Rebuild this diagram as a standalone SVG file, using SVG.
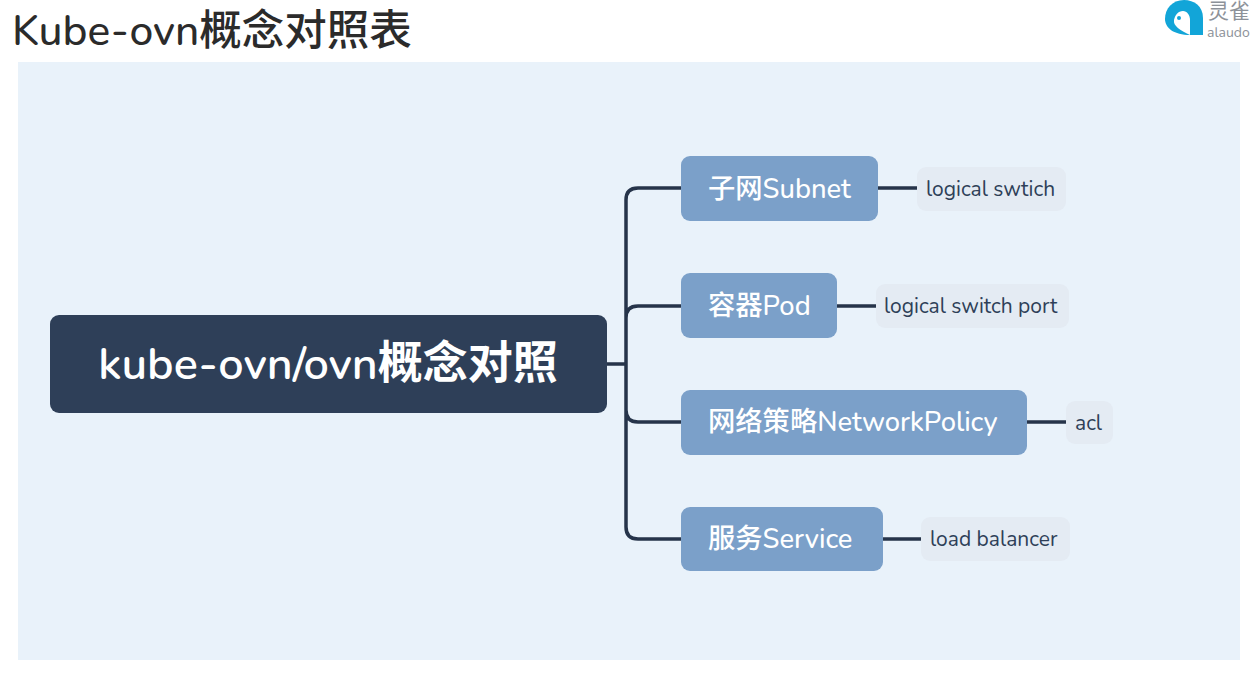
<svg xmlns="http://www.w3.org/2000/svg" width="1257" height="688" viewBox="0 0 1257 688">
<style>
text{font-family:"Nunito","Noto Sans","Noto Sans CJK SC",sans-serif}
.c{fill:none;stroke:#26344a;stroke-width:3.5}
.b{fill:#7ba0c9}
.bt{fill:#fff;font-size:27.3px;font-weight:500}
.l{fill:#e4ebf3}
.lt{fill:#2e3f58;font-size:21px}
</style>
<rect width="1257" height="688" fill="#fff"/>
<rect id="panel" x="18" y="62" width="1222" height="598" fill="#e9f2fa"/>
<text id="title" x="12" y="45" font-size="42.5" font-weight="500" fill="#2b2b2b">Kube-ovn概念对照表</text>
<g id="logo">
<path d="M1203 35V18C1203 6 1194 0 1184 0C1172 0 1165 9 1165 19C1165 28 1174 35 1190 35Z" fill="#12a5d8"/>
<path d="M1190 35V20C1190 15 1187 11 1183 11C1178 11 1175 15 1174 20C1173 26 1180 30 1190 35Z" fill="#fff"/>
<circle cx="1179" cy="18" r="2" fill="#12a5d8"/>
<text x="1208" y="18" font-size="21" fill="#8d9299">灵雀</text>
<text x="1207" y="37" font-size="14" fill="#8d9299">alaudo</text>
</g>
<g id="connectors">
<path class="c" d="M607 364H626M681 188H638Q626 188 626 200V527Q626 539 638 539H681M626 318Q626 306 638 306H681M626 410Q626 422 638 422H681"/>
<path class="c" d="M878 188H917M837 306H876M1027 422H1066M883 539H921"/>
</g>
<g id="root"><rect x="50" y="315" width="557" height="98" rx="9" fill="#2e3f58"/><text x="328" y="379" text-anchor="middle" font-size="45" font-weight="600" fill="#fff">kube-ovn/ovn概念对照</text></g>
<g id="subnet"><rect class="b" x="681" y="156" width="197" height="65" rx="9"/><text class="bt" x="708" y="198">子网Subnet</text></g>
<g id="pod"><rect class="b" x="681" y="273" width="156" height="65" rx="9"/><text class="bt" x="708" y="315">容器Pod</text></g>
<g id="policy"><rect class="b" x="681" y="390" width="346" height="65" rx="9"/><text class="bt" x="708" y="431">网络策略NetworkPolicy</text></g>
<g id="service"><rect class="b" x="681" y="507" width="202" height="64" rx="9"/><text class="bt" x="708" y="548">服务Service</text></g>
<g id="l1"><rect class="l" x="917" y="167" width="149" height="44" rx="9"/><text class="lt" x="926" y="196">logical swtich</text></g>
<g id="l2"><rect class="l" x="876" y="284" width="193" height="44" rx="9"/><text class="lt" x="884" y="313">logical switch port</text></g>
<g id="l3"><rect class="l" x="1066" y="401" width="47" height="43" rx="9"/><text class="lt" x="1075" y="430">acl</text></g>
<g id="l4"><rect class="l" x="921" y="517" width="149" height="44" rx="9"/><text class="lt" x="930" y="546">load balancer</text></g>
</svg>
